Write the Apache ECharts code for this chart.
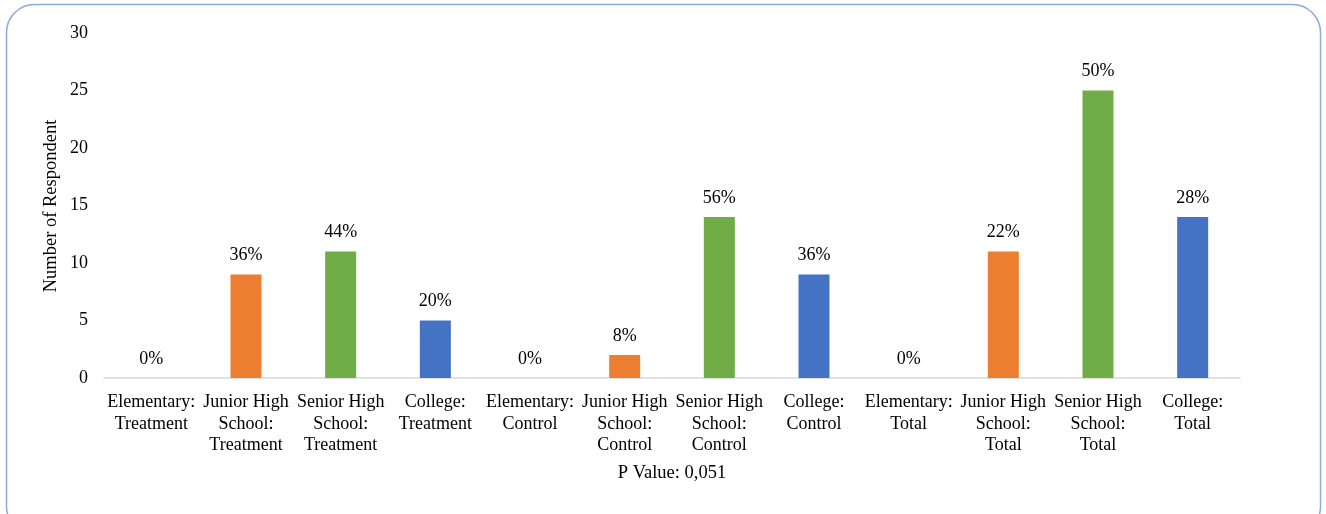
<!DOCTYPE html>
<html>
<head>
<meta charset="utf-8">
<script src="https://cdn.jsdelivr.net/npm/echarts@6/dist/echarts.min.js"></script>
<style>
  html, body { margin: 0; padding: 0; background: #fff; }
  #chart { width: 1326px; height: 514px; }
</style>
</head>
<body>
<div id="chart"></div>
<script>
// Education level by group
const categories = [
  'Elementary:\nTreatment', 'Junior High\nSchool:\nTreatment', 'Senior High\nSchool:\nTreatment', 'College:\nTreatment',
  'Elementary:\nControl', 'Junior High\nSchool:\nControl', 'Senior High\nSchool:\nControl', 'College:\nControl',
  'Elementary:\nTotal', 'Junior High\nSchool:\nTotal', 'Senior High\nSchool:\nTotal', 'College:\nTotal'
];
const respondents = [0, 9, 11, 5, 0, 2, 14, 9, 0, 11, 25, 14];
const percentLabels = ['0%', '36%', '44%', '20%', '0%', '8%', '56%', '36%', '0%', '22%', '50%', '28%'];
const levelColors = ['#A5A5A5', '#ED7D31', '#70AD47', '#4472C4'];
const yAxisTitle = 'Number of Respondent';
const xAxisTitle = 'P Value: 0,051';

const FONT = '"Liberation Serif", "Times New Roman", serif';
const chart = echarts.init(document.getElementById('chart'), null, { renderer: 'canvas' });

chart.setOption({
  backgroundColor: '#ffffff',
  animation: false,
  textStyle: { fontFamily: FONT, color: '#000' },
  graphic: [{
    type: 'rect',
    shape: { x: 6.5, y: 4.5, width: 1314, height: 530, r: 28 },
    style: { fill: 'none', stroke: '#8FAADC', lineWidth: 1.5 },
    silent: true,
    z: -1
  }, {
    // vertical title beside the value axis
    type: 'text',
    x: 51,
    y: 206,
    rotation: Math.PI / 2,
    style: {
      text: yAxisTitle,
      fontFamily: FONT,
      fontSize: 18.5,
      fill: '#000',
      align: 'center',
      verticalAlign: 'middle'
    },
    silent: true
  }],
  grid: { left: 104, right: 86, top: 33, bottom: 136 },
  xAxis: {
    type: 'category',
    data: categories,
    name: xAxisTitle,
    nameLocation: 'middle',
    nameGap: 86,
    nameTextStyle: { fontFamily: FONT, fontSize: 18.5, color: '#000' },
    axisLine: { lineStyle: { color: '#D9D9D9', width: 1.5 } },
    axisTick: { show: false },
    axisLabel: {
      interval: 0,
      margin: 14,
      fontFamily: FONT,
      fontSize: 18,
      lineHeight: 21.5,
      color: '#000'
    }
  },
  yAxis: {
    type: 'value',
    min: 0,
    max: 30,
    interval: 5,
    axisLine: { show: false },
    axisTick: { show: false },
    splitLine: { show: false },
    axisLabel: { fontFamily: FONT, fontSize: 18, color: '#000', margin: 16 }
  },
  series: [{
    type: 'bar',
    data: respondents.map((v, i) => ({
      value: v,
      itemStyle: { color: levelColors[i % 4] }
    })),
    barWidth: 31,
    label: {
      show: true,
      position: 'top',
      distance: 10,
      fontFamily: FONT,
      fontSize: 18,
      color: '#000',
      formatter: p => percentLabels[p.dataIndex]
    }
  }]
});
</script>
</body>
</html>
